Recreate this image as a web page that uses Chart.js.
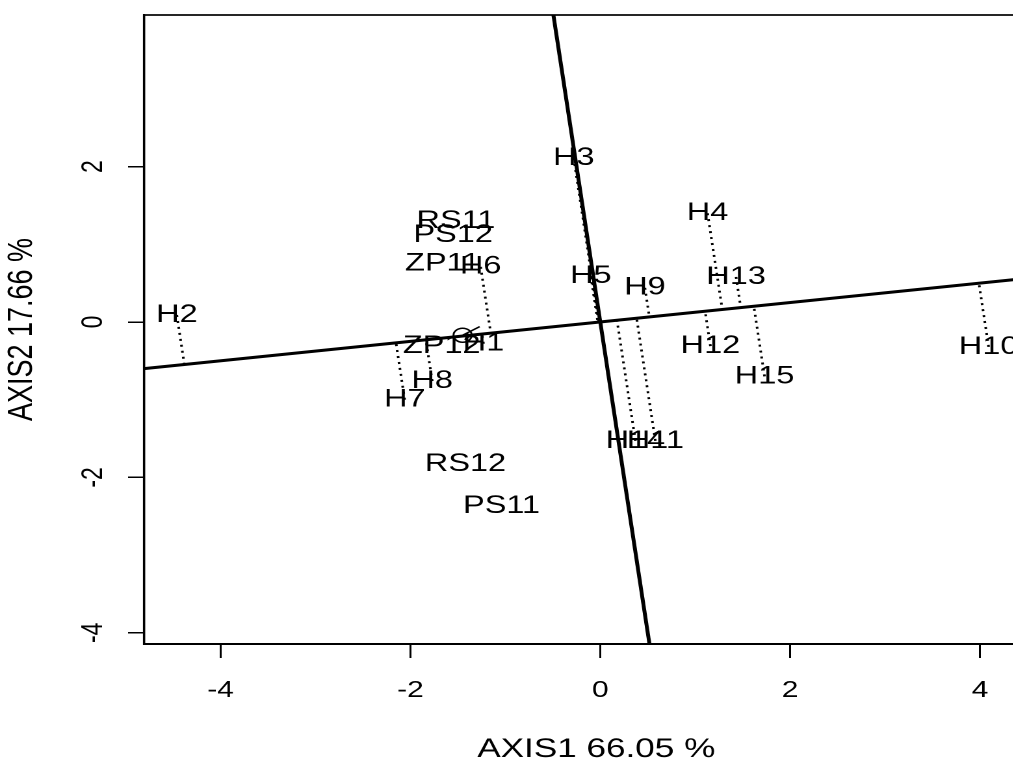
<!DOCTYPE html>
<html>
<head>
<meta charset="utf-8">
<script src="https://cdn.jsdelivr.net/npm/chart.js@4.4.0/dist/chart.umd.min.js"></script>
<style>
  html, body { margin: 0; padding: 0; background: #fff; overflow: hidden; }
  /* the reference has wide text and marks, so lay the chart out narrower and stretch it */
  #wrap { width: 815px; height: 760px; transform: scaleX(1.3); transform-origin: 0 0; }
</style>
</head>
<body>
<div id="wrap"><canvas id="biplot"></canvas></div>
<script>
// genotypes (with projection onto the ATC abscissa)
const genoNames = ['H1', 'H2', 'H3', 'H4', 'H5', 'H6', 'H7', 'H8', 'H9', 'H10', 'H11', 'H12', 'H13', 'H14', 'H15'];
const genoX = [-1.23, -4.46, -0.28, 1.13, -0.10, -1.26, -2.06, -1.77, 0.47, 4.09, 0.58, 1.16, 1.43, 0.37, 1.73];
const genoY = [-0.28, 0.09, 2.11, 1.40, 0.59, 0.71, -1.00, -0.76, 0.44, -0.32, -1.53, -0.31, 0.58, -1.53, -0.70];

// environments
const envNames = ['RS11', 'PS12', 'ZP11', 'ZP12', 'RS12', 'PS11'];
const envX = [-1.52, -1.55, -1.66, -1.67, -1.42, -1.04];
const envY = [1.30, 1.12, 0.75, -0.31, -1.83, -2.37];

// average environment axis
const atcSlope = 0.125;
const avgEnv = [-1.45, -0.17];
const avgArrowTip = [-1.27, -0.06];

// axes
const xRange = [-4.805, 4.72];
const yRange = [-4.144, 3.951];
const xTickValues = [-4, -2, 0, 2, 4];
const yTickValues = [-4, -2, 0, 2];

const font = 'Arial';

function project(x, y) {
  const t = (x + atcSlope * y) / (1 + atcSlope * atcSlope);
  return { x: t, y: atcSlope * t };
}

const datasets = [];

// ATC abscissa and ordinate
datasets.push({
  data: [{ x: xRange[0], y: atcSlope * xRange[0] }, { x: xRange[1], y: atcSlope * xRange[1] }],
  showLine: true, borderColor: '#000', borderWidth: 3, pointRadius: 0
});
datasets.push({
  data: [{ x: -atcSlope * yRange[1], y: yRange[1] }, { x: -atcSlope * yRange[0], y: yRange[0] }],
  showLine: true, borderColor: '#000', borderWidth: 3, pointRadius: 0
});

// dotted projections of each genotype
genoNames.forEach((name, i) => {
  datasets.push({
    data: [{ x: genoX[i], y: genoY[i] }, project(genoX[i], genoY[i])],
    showLine: true, borderColor: '#000', borderWidth: 2, borderDash: [2, 4], pointRadius: 0
  });
});

// average environment marker
datasets.push({
  data: [{ x: avgEnv[0], y: avgEnv[1] }],
  pointRadius: 7, pointStyle: 'circle', borderColor: '#000', borderWidth: 1.5, backgroundColor: 'rgba(0,0,0,0)'
});
datasets.push({
  data: [{ x: avgEnv[0], y: avgEnv[1] }, { x: avgArrowTip[0], y: avgArrowTip[1] }],
  showLine: true, borderColor: '#000', borderWidth: 1.5, pointRadius: 0
});

// box around the plot region
const framePlugin = {
  id: 'frame',
  beforeDatasetsDraw(chart) {
    const { ctx, chartArea: a } = chart;
    ctx.save();
    ctx.strokeStyle = '#000';
    ctx.lineWidth = 1.7;
    ctx.strokeRect(a.left, a.top, a.right - a.left, a.bottom - a.top);
    ctx.restore();
  }
};

// text labels at each point
const labelPlugin = {
  id: 'pointLabels',
  afterDatasetsDraw(chart) {
    const { ctx, scales: { x, y } } = chart;
    ctx.save();
    ctx.fillStyle = '#000';
    ctx.font = '25px ' + font;
    ctx.textAlign = 'center';
    ctx.textBaseline = 'middle';
    genoNames.forEach((name, i) => {
      ctx.fillText(name, x.getPixelForValue(genoX[i]), y.getPixelForValue(genoY[i]));
    });
    envNames.forEach((name, i) => {
      ctx.fillText(name, x.getPixelForValue(envX[i]), y.getPixelForValue(envY[i]));
    });
    ctx.restore();
  }
};

new Chart(document.getElementById('biplot'), {
  type: 'scatter',
  data: { datasets: datasets },
  plugins: [framePlugin, labelPlugin],
  options: {
    responsive: true,
    maintainAspectRatio: false,
    animation: false,
    devicePixelRatio: 2,
    layout: { padding: { top: 15, right: 0, bottom: 0, left: 0 } },
    plugins: { legend: { display: false }, tooltip: { enabled: false } },
    scales: {
      x: {
        type: 'linear',
        min: xRange[0],
        max: xRange[1],
        afterBuildTicks: s => { s.ticks = xTickValues.map(v => ({ value: v })); },
        afterFit: s => { s.height = 116; s.paddingLeft = 0; s.paddingRight = 0; },
        grid: { drawOnChartArea: false, drawTicks: true, tickLength: 14, color: '#000', lineWidth: 1.5 },
        border: { display: true, color: '#000', width: 2 },
        ticks: { color: '#000', font: { family: font, size: 23 }, padding: 19, maxRotation: 0 },
        title: { display: true, text: 'AXIS1 66.05 %', color: '#000', font: { family: font, size: 27, lineHeight: 1 }, padding: { top: 0, bottom: -3 } }
      },
      y: {
        type: 'linear',
        min: yRange[0],
        max: yRange[1],
        afterBuildTicks: s => { s.ticks = yTickValues.map(v => ({ value: v })); },
        afterFit: s => { s.width = 110.8; s.paddingTop = 0; s.paddingBottom = 0; },
        grid: { drawOnChartArea: false, drawTicks: true, tickLength: 12.3, color: '#000', lineWidth: 1.5 },
        border: { display: true, color: '#000', width: 1.6 },
        ticks: { color: '#000', font: { family: font, size: 23 }, padding: 16, crossAlign: 'center', minRotation: 90, maxRotation: 90 },
        title: { display: true, text: 'AXIS2 17.66 %', color: '#000', font: { family: font, size: 27, lineHeight: 1 }, padding: { top: 3.5, bottom: 0 } }
      }
    }
  }
});
</script>
</body>
</html>
